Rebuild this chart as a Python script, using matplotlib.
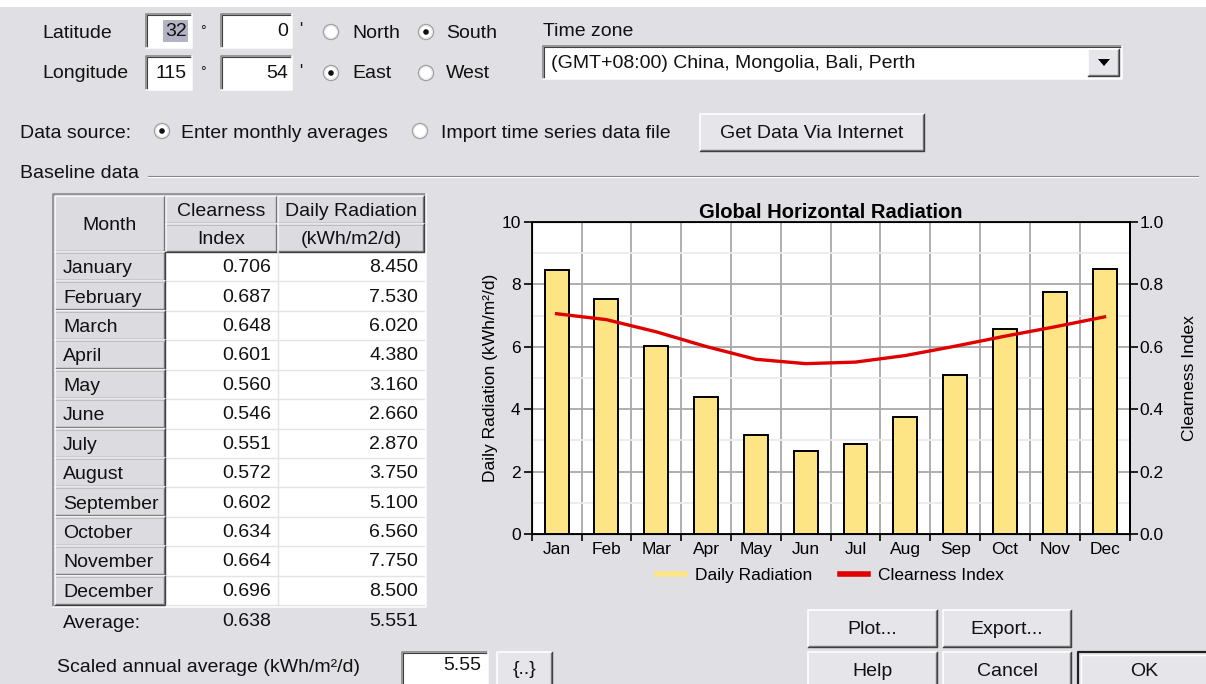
import matplotlib
matplotlib.use('Agg')
import matplotlib.pyplot as plt
from matplotlib.patches import Rectangle, Circle, Polygon
from matplotlib.lines import Line2D
from matplotlib.ticker import MultipleLocator, FixedLocator, NullFormatter

# ---------------- data ----------------
months_short = ['Jan', 'Feb', 'Mar', 'Apr', 'May', 'Jun', 'Jul', 'Aug', 'Sep', 'Oct', 'Nov', 'Dec']
months_full = ['January', 'February', 'March', 'April', 'May', 'June', 'July',
               'August', 'September', 'October', 'November', 'December']
clearness = [0.706, 0.687, 0.648, 0.601, 0.560, 0.546, 0.551, 0.572, 0.602, 0.634, 0.664, 0.696]
radiation = [8.450, 7.530, 6.020, 4.380, 3.160, 2.660, 2.870, 3.750, 5.100, 6.560, 7.750, 8.500]
avg_clearness = 0.638
avg_radiation = 5.551
scaled_average = 5.55
left_ticks = [0, 2, 4, 6, 8, 10]
right_ticks = [0.0, 0.2, 0.4, 0.6, 0.8, 1.0]
latitude_deg, latitude_min = 32, 0
longitude_deg, longitude_min = 115, 54
time_zone = '(GMT+08:00) China, Mongolia, Bali, Perth'

# ---------------- style ----------------
BG = '#E0DFE3'
BTN = '#E6E5EA'
DARK = '#808080'
FONT = 'Liberation Sans'
plt.rcParams['font.family'] = [FONT, 'DejaVu Sans']

W, H = 1206, 684
fig = plt.figure(figsize=(W / 100, H / 100), dpi=100)
fig.patch.set_facecolor(BG)

bg = fig.add_axes([0, 0, 1, 1])
bg.set_xlim(0, W)
bg.set_ylim(H, 0)
bg.axis('off')
bg.set_zorder(0)

GUI_FS = 14


def txt(x, y, s, ha='left', fs=GUI_FS, **kw):
    bg.text(x, y, s, ha=ha, va='center', fontsize=fs, color='#111111', **kw)


def sunken(x0, y0, x1, y1, fill='white'):
    bg.add_patch(Rectangle((x0, y0), x1 - x0, y1 - y0, facecolor=fill, edgecolor='none'))
    bg.plot([x0, x0, x1], [y1, y0, y0], color=DARK, lw=1.1, solid_capstyle='butt')
    bg.plot([x0 + 1.4, x0 + 1.4, x1 - 1.4], [y1 - 1.4, y0 + 1.4, y0 + 1.4], color='#404040', lw=0.8)
    bg.plot([x0, x1, x1], [y1, y1, y0], color='white', lw=1.1)


def raised(x0, y0, x1, y1, fill=BTN, label=None, fs=GUI_FS, default=False):
    bg.add_patch(Rectangle((x0, y0), x1 - x0, y1 - y0, facecolor=fill, edgecolor='none'))
    bg.plot([x0, x0, x1], [y1, y0, y0], color='white', lw=1.2)
    bg.plot([x0 + 1.4, x1 - 1.4, x1 - 1.4], [y1 - 1.4, y1 - 1.4, y0 + 1.4], color=DARK, lw=1.0)
    bg.plot([x0, x1, x1], [y1, y1, y0], color='#404040', lw=1.0)
    if default:
        bg.plot([x0, x0, x1], [y1, y0, y0], color='#202020', lw=1.6)
        bg.plot([x0 + 3, x0 + 3, x1], [y1, y0 + 3, y0 + 3], color='white', lw=1.0)
    if label is not None:
        txt((x0 + x1) / 2, (y0 + y1) / 2 + 1, label, ha='center', fs=fs)


def radio(x, y, selected):
    bg.add_patch(Circle((x, y), 7.5, facecolor='white', edgecolor='#A0A0A0', lw=1.0))
    bg.add_patch(Circle((x, y), 6.3, facecolor='none', edgecolor='#E8E8E8', lw=0.8))
    if selected:
        bg.add_patch(Circle((x, y), 2.8, facecolor='#111111', edgecolor='none'))


# top white strip
bg.add_patch(Rectangle((0, 0), W, 7, facecolor='white', edgecolor='none'))

# ---------------- location rows ----------------
txt(42, 33, 'Latitude')
sunken(146, 14, 192, 48)
bg.add_patch(Rectangle((163, 20), 25, 22, facecolor='#B2B4C4', edgecolor='none'))
txt(187, 32, str(latitude_deg), ha='right')
txt(200, 31, '°', fs=10)
sunken(221, 14, 292, 48)
txt(288, 32, str(latitude_min), ha='right')
txt(299, 30, "'", fs=12)
radio(331, 32, False)
txt(352, 33, 'North')
radio(426, 32, True)
txt(446, 33, 'South')

txt(42, 74, 'Longitude')
sunken(146, 56, 192, 90)
txt(187, 73, str(longitude_deg), ha='right')
txt(200, 72, '°', fs=10)
sunken(221, 56, 292, 90)
txt(288, 73, str(longitude_min), ha='right')
txt(299, 71, "'", fs=12)
radio(331, 73, True)
txt(352, 74, 'East')
radio(426, 73, False)
txt(446, 74, 'West')

# time zone
txt(543, 31, 'Time zone')
sunken(543, 46, 1122, 79)
txt(551, 63, time_zone)
raised(1088, 49, 1119, 76)
bg.add_patch(Polygon([[1098, 59], [1110, 59], [1104, 66]], closed=True, facecolor='black', edgecolor='none'))

# data source
txt(20, 133, 'Data source:')
radio(162, 131, True)
txt(181, 133, 'Enter monthly averages')
radio(420, 131, False)
txt(441, 133, 'Import time series data file')
raised(700, 114, 924, 151, label='Get Data Via Internet')

# baseline data group line
txt(20, 173, 'Baseline data')
bg.plot([148, 1198], [176, 176], color=DARK, lw=0.8)
bg.plot([148, 1198], [177.4, 177.4], color='white', lw=0.8)

# ---------------- table ----------------
tx0, ty0, tx1, ty1 = 53, 194, 426, 607
sunken(tx0, ty0, tx1, ty1, fill='white')
c0, c1, c2, c3 = 55, 165, 277, 424
h0, h1, h2 = 196, 224, 252
row_h = (605 - h2) / 12.0
HDR = '#DCDBE0'
raised(c0, h0, c1, h2, fill=HDR, label='Month')
raised(c1 + 1, h0, c2, h1, fill=HDR, label='Clearness')
raised(c1 + 1, h1, c2, h2, fill=HDR, label='Index')
raised(c2 + 1, h0, c3, h1, fill=HDR, label='Daily Radiation')
raised(c2 + 1, h1, c3, h2, fill=HDR, label='(kWh/m2/d)')
for i, (m, ci, r) in enumerate(zip(months_full, clearness, radiation)):
    y0 = h2 + i * row_h
    raised(c0, y0, c1, y0 + row_h, fill=HDR)
    txt(c0 + 8, y0 + row_h / 2 + 2, m)
    bg.plot([c1 + 1, c3], [y0 + row_h, y0 + row_h], color='#E4E4E4', lw=1.0)
    txt(c2 - 6, y0 + row_h / 2 + 1, f'{ci:.3f}', ha='right')
    txt(c3 - 6, y0 + row_h / 2 + 1, f'{r:.3f}', ha='right')
bg.plot([c2 + 0.5, c2 + 0.5], [h2, h2 + 12 * row_h], color='#E4E4E4', lw=1.0)

txt(63, 623, 'Average:')
txt(c2 - 6, 622, f'{avg_clearness:.3f}', ha='right')
txt(c3 - 6, 622, f'{avg_radiation:.3f}', ha='right')

txt(57, 668, 'Scaled annual average (kWh/m²/d)')
sunken(402, 652, 488, 686)
txt(481, 666, f'{scaled_average:.2f}', ha='right')
raised(497, 652, 552, 686, label='{..}')

# buttons
raised(808, 610, 937, 647, label='Plot...')
raised(943, 610, 1071, 647, label='Export...')
raised(808, 652, 937, 690, label='Help')
raised(943, 652, 1071, 690, label='Cancel')
raised(1078, 652, 1210, 690, label='OK', default=True)

# ---------------- chart ----------------
axL, axR, axT, axB = 531.7, 1129.5, 222.0, 534.0
ax = fig.add_axes([axL / W, 1 - axB / H, (axR - axL) / W, (axB - axT) / H])
ax.set_zorder(2)
ax.set_facecolor('white')
CFS = 12.5
x = list(range(12))
ax.bar(x, radiation, width=0.48, color='#FDE585', edgecolor='black', linewidth=1.4, zorder=3)
ax.set_xlim(-0.5, 11.5)
ax.set_ylim(0, 10)
ax.xaxis.set_major_locator(FixedLocator([i - 0.5 for i in range(13)]))
ax.xaxis.set_major_formatter(NullFormatter())
ax.xaxis.set_minor_locator(FixedLocator(x))
ax.set_xticklabels(months_short, minor=True)
ax.tick_params(axis='x', which='minor', length=0, labelsize=CFS, pad=6)
ax.tick_params(axis='x', which='major', length=5, width=1.2, direction='out')
ax.set_yticks(left_ticks)
ax.yaxis.set_minor_locator(MultipleLocator(1))
ax.tick_params(axis='y', which='major', length=6, width=1.2, labelsize=CFS, pad=2)
ax.tick_params(axis='y', which='minor', length=0)
ax.grid(True, which='major', axis='both', color='#A8A8A8', lw=1.3, zorder=1)
ax.grid(True, which='minor', axis='y', color='#EBEBEB', lw=1.3, zorder=0)
ax.set_axisbelow(True)
for s in ax.spines.values():
    s.set_linewidth(1.4)
    s.set_color('#111111')
ax.set_ylabel('Daily Radiation (kWh/m²/d)', fontsize=CFS, labelpad=2)
ax.set_title('Global Horizontal Radiation', fontsize=14.5, fontweight='bold', pad=3)

ax2 = ax.twinx()
ax2.plot(x, clearness, color='#E00000', lw=2.4, zorder=4)
ax2.set_ylim(0, 1)
ax2.set_yticks(right_ticks)
ax2.set_yticklabels([f'{t:.1f}' for t in right_ticks])
ax2.tick_params(axis='y', length=6, width=1.2, labelsize=CFS, pad=1)
ax2.set_ylabel('Clearness Index', fontsize=CFS, labelpad=13)
ax2.spines['right'].set_linewidth(1.4)

handles = [Line2D([], [], color='#FDE585', lw=4),
           Line2D([], [], color='#E00000', lw=4)]
ax.legend(handles, ['Daily Radiation', 'Clearness Index'], loc='upper center',
          bbox_to_anchor=(0.5, -0.058), ncol=2, frameon=False, fontsize=CFS,
          handlelength=1.6, handletextpad=0.6, columnspacing=1.6)

fig.savefig('out.png', dpi=100, facecolor=BG)
